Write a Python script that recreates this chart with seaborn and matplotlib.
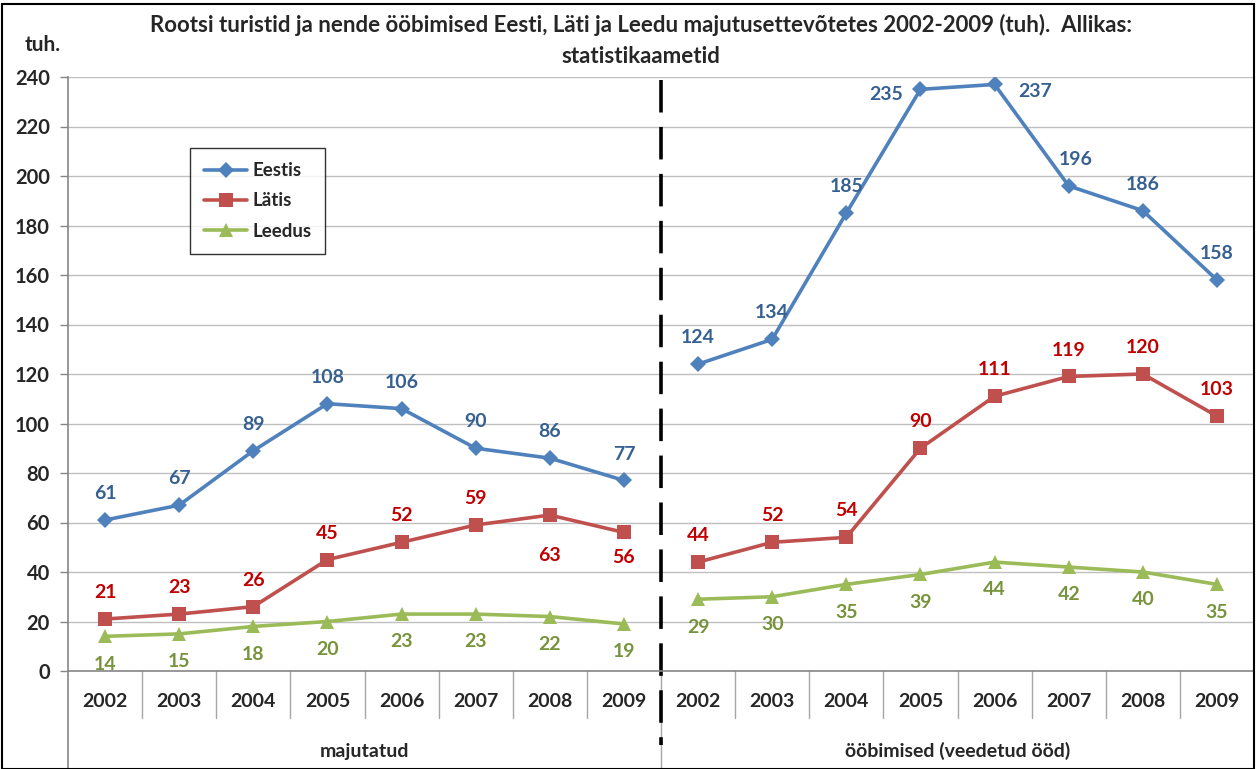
import pandas as pd
import matplotlib.pyplot as plt
import seaborn as sns
from matplotlib.patches import Rectangle

years = ['2002', '2003', '2004', '2005', '2006', '2007', '2008', '2009']
groups = ['majutatud', 'ööbimised (veedetud ööd)']
series = ['Eestis', 'Lätis', 'Leedus']

eestis = [61, 67, 89, 108, 106, 90, 86, 77, 124, 134, 185, 235, 237, 196, 186, 158]
latis = [21, 23, 26, 45, 52, 59, 63, 56, 44, 52, 54, 90, 111, 119, 120, 103]
leedus = [14, 15, 18, 20, 23, 23, 22, 19, 29, 30, 35, 39, 44, 42, 40, 35]

line_colors = {'Eestis': '#4F81BD', 'Lätis': '#C0504D', 'Leedus': '#9BBB59'}
label_colors = {'Eestis': '#376092', 'Lätis': '#C00000', 'Leedus': '#77933C'}
markers = {'Eestis': 'D', 'Lätis': 's', 'Leedus': '^'}

rows = []
for name, vals in zip(series, [eestis, latis, leedus]):
    for i, v in enumerate(vals):
        rows.append({'series': name, 'group': groups[i // 8], 'year': years[i % 8],
                     'pos': i, 'value': v})
df = pd.DataFrame(rows)

sns.set_style('white')
plt.rcParams['font.family'] = ['Lato', 'DejaVu Sans']
plt.rcParams['font.weight'] = 'bold'

fig = plt.figure(figsize=(12.56, 7.69), dpi=100)
ax = fig.add_axes([68 / 1256, 98 / 769, 1186 / 1256, 594 / 769])

for gi, g in enumerate(groups):
    sub = df[df['group'] == g]
    sns.lineplot(data=sub, x='pos', y='value', hue='series', style='series',
                 palette=line_colors, markers=markers, dashes=False,
                 hue_order=series, style_order=series,
                 linewidth=2.6, markersize=9, markeredgewidth=0,
                 legend=(gi == 0), ax=ax)
for ln in ax.get_lines():
    if ln.get_marker() == 's':
        ln.set_markersize(9.5)
    elif ln.get_marker() == '^':
        ln.set_markersize(10)
    elif ln.get_marker() == 'D':
        ln.set_markersize(8)

# data label offsets (dx, dy) in points
offsets = {}
for name in series:
    for i in range(16):
        offsets[(name, i)] = (0, 19) if name != 'Leedus' else (0, -20)
offsets[('Lätis', 6)] = (0, -29)
offsets[('Lätis', 7)] = (0, -18)
offsets[('Eestis', 11)] = (-25, -4)
offsets[('Eestis', 12)] = (29, -5)
offsets[('Eestis', 13)] = (5, 19)

for _, r in df.iterrows():
    dx, dy = offsets[(r['series'], r['pos'])]
    ax.annotate(str(r['value']), (r['pos'], r['value']), xytext=(dx, dy),
                textcoords='offset points', ha='center', va='center',
                fontsize=14, fontweight='bold', color=label_colors[r['series']])

ax.set_xlim(-0.5, 15.5)
ax.set_ylim(0, 240)
ax.set_yticks(range(0, 241, 20))
ax.set_xticks([])
ax.set_xlabel('')
ax.set_ylabel('')
ax.yaxis.grid(True, color='#BFBFBF', linewidth=1)
ax.tick_params(axis='y', left=True, length=6, width=1, color='#868686',
               labelsize=14.5, pad=7)
for lab in ax.get_yticklabels():
    lab.set_fontweight('bold')
for side in ['top', 'right']:
    ax.spines[side].set_visible(False)
for side in ['left', 'bottom']:
    ax.spines[side].set_color('#868686')
    ax.spines[side].set_linewidth(1.2)

# category axis boxes
tr = ax.get_xaxis_transform()
for k in range(1, 16):
    if k == 8:
        continue
    ax.plot([k - 0.5, k - 0.5], [0, -0.079], transform=tr, color='#A6A6A6',
            linewidth=1, clip_on=False)
ax.plot([-0.5, -0.5], [0, -0.17], transform=tr, color='#868686', linewidth=1.2, clip_on=False)
ax.plot([7.5, 7.5], [0, -0.17], transform=tr, color='#A6A6A6', linewidth=1, clip_on=False)
for i in range(16):
    ax.text(i, -0.052, years[i % 8], transform=tr, ha='center', va='center',
            fontsize=14, fontweight='bold')
ax.text(3.5, -0.135, groups[0], transform=tr, ha='center', va='center',
        fontsize=14, fontweight='bold')
ax.text(11.5, -0.135, groups[1], transform=tr, ha='center', va='center',
        fontsize=14, fontweight='bold')

# dashed divider
ax.plot([7.5, 7.5], [0.995, -0.125], transform=tr, color='black', linewidth=2.6,
        linestyle=(0, (9, 4)), clip_on=False)

leg = ax.legend(loc='upper left', bbox_to_anchor=(0.103, 0.88), borderaxespad=0,
                frameon=True, fancybox=False, edgecolor='black', fontsize=13.5,
                handlelength=2.3, handletextpad=0.25, labelspacing=0.7, borderpad=0.75)
leg.get_frame().set_linewidth(1)
for t in leg.get_texts():
    t.set_fontweight('bold')

fig.text(0.51, 1 - 14 / 769, 'Rootsi turistid ja nende ööbimised Eesti, Läti ja Leedu majutusettevõtetes '
         '2002-2009 (tuh).  Allikas:\nstatistikaametid', ha='center', va='top',
         fontsize=16, fontweight='bold', linespacing=1.6)
fig.text(25 / 1256, 1 - 45 / 769, 'tuh.', ha='left', va='center', fontsize=15, fontweight='bold')

fig.patches.append(Rectangle((2 / 1256, 0), 1 - 4 / 1256, 1 - 4 / 769, transform=fig.transFigure,
                             fill=False, edgecolor='black', linewidth=1.5))

fig.savefig('out.png', dpi=100)
